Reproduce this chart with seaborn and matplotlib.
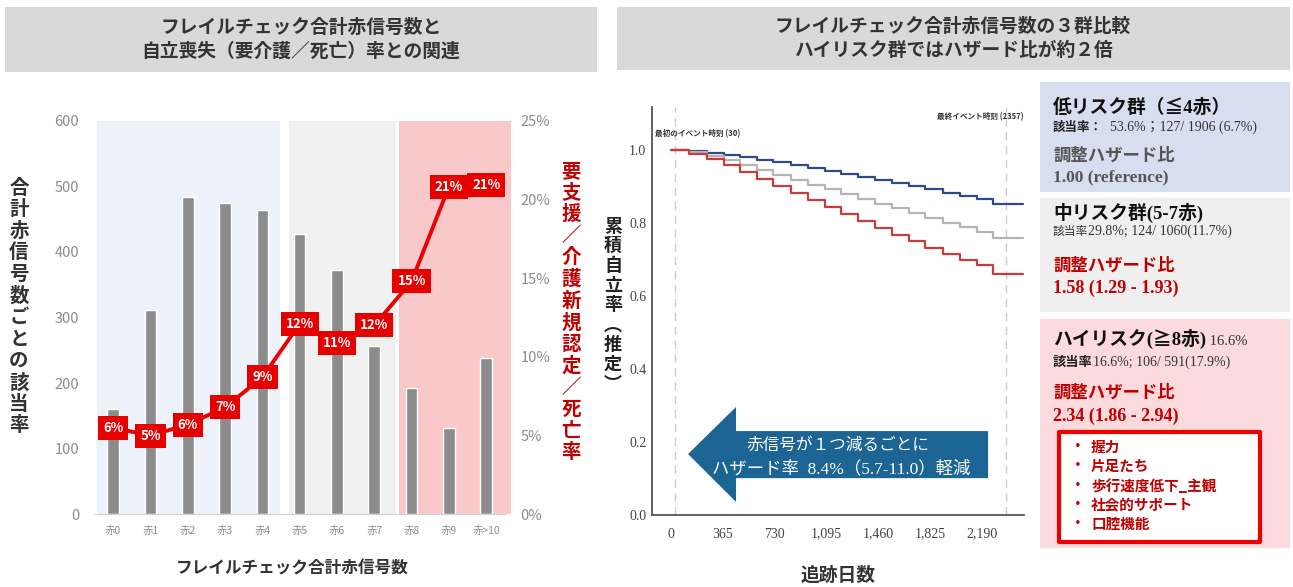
import numpy as np
import pandas as pd
import matplotlib
matplotlib.use("Agg")
import matplotlib.pyplot as plt
from matplotlib.patches import Rectangle, Polygon
from matplotlib.ticker import FuncFormatter
import seaborn as sns

# === Data ===
red_labels = ["赤0", "赤1", "赤2", "赤3", "赤4", "赤5", "赤6", "赤7", "赤8", "赤9", "赤>10"]
counts = [161, 312, 483, 475, 464, 427, 372, 256, 193, 132, 239]
event_rate = [5.5, 5.0, 5.7, 6.8, 8.7, 12.1, 10.9, 12.0, 14.8, 20.8, 20.9]

# risk groups as index ranges of red_labels
band_start = [0, 5, 8]
band_end = [4, 7, 10]
band_colors = ["#edf2fa", "#f0f0f0", "#f9c8c8"]
band_pad_left = [0.44, 0.28, 0.34]
band_pad_right = [0.47, 0.59, 0.67]

# Kaplan-Meier steps (days, survival) per group
km_days = [0, 130, 250, 370, 485, 605, 720, 845, 965, 1085, 1200,
           1320, 1440, 1555, 1675, 1790, 1915, 2035, 2155, 2270]
km_end = 2480
surv_low = [1.000, 0.997, 0.992, 0.986, 0.980, 0.973, 0.966, 0.959, 0.951, 0.943,
            0.935, 0.927, 0.919, 0.910, 0.901, 0.892, 0.883, 0.874, 0.865, 0.853]
surv_mid = [1.000, 0.996, 0.985, 0.972, 0.958, 0.944, 0.931, 0.918, 0.905, 0.892,
            0.879, 0.866, 0.853, 0.840, 0.827, 0.814, 0.801, 0.788, 0.775, 0.760]
surv_high = [1.000, 0.990, 0.975, 0.958, 0.940, 0.920, 0.901, 0.882, 0.862, 0.843,
             0.824, 0.805, 0.786, 0.768, 0.750, 0.733, 0.716, 0.700, 0.684, 0.660]
km_colors = {"low": "#2f4a8a", "mid": "#b4b4b4", "high": "#c83c3c"}
day_ticks = [0, 365, 730, 1095, 1460, 1825, 2190]
first_event = 30
last_event = 2357

high_risk_items = ["握力", "片足たち", "歩行速度低下_主観", "社会的サポート", "口腔機能"]

# === Style ===
sns.set_style("white")
plt.rcParams["font.family"] = ["Noto Sans CJK JP", "DejaVu Sans"]
SERIF = ["Liberation Serif", "Noto Sans CJK JP"]
DARKRED = "#c00000"

W, H = 1293, 587
fig = plt.figure(figsize=(W / 100, H / 100), dpi=100)


def fx(px):
    return px / W


def fy(py):
    return 1 - py / H


def rect(x0, y0, x1, y1, **kw):
    r = Rectangle((fx(x0), fy(y1)), (x1 - x0) / W, (y1 - y0) / H,
                  transform=fig.transFigure, **kw)
    fig.add_artist(r)


def chain(x, y, parts):
    # draw text pieces one after another on the same baseline
    renderer = fig.canvas.get_renderer()
    for text, kw in parts:
        t = fig.text(fx(x), fy(y), text, va="baseline", ha="left", **kw)
        x = t.get_window_extent(renderer).x1


# === Title boxes ===
rect(5, 7, 597, 72, color="#d9d9d9", lw=0)
fig.text(fx(301), fy(39), "フレイルチェック合計赤信号数と\n自立喪失（要介護／死亡）率との関連",
         ha="center", va="center", fontsize=13.5, fontweight="bold",
         color="#333333", linespacing=1.35)
rect(617, 7, 1290, 70, color="#d9d9d9", lw=0)
fig.text(fx(953), fy(38), "フレイルチェック合計赤信号数の３群比較\nハイリスク群ではハザード比が約２倍",
         ha="center", va="center", fontsize=13.5, fontweight="bold",
         color="#333333", linespacing=1.35)

# === Left: bars + rate line ===
ax = fig.add_axes([fx(94.5), fy(514.3), (512.3 - 94.5) / W, (514.3 - 120.7) / H])
for s, e, c, pl, pr in zip(band_start, band_end, band_colors, band_pad_left, band_pad_right):
    ax.axvspan(s - pl, e + pr, color=c, lw=0, zorder=0)
sns.barplot(x=red_labels, y=counts, color="#8c8c8c", saturation=1, width=0.31,
            ax=ax, zorder=2)
ax.set_xlim(-0.5, 10.7)
ax.set_ylim(0, 600)
ax.set_yticks(range(0, 601, 100))
ax.tick_params(axis="y", length=0, labelsize=10.5, labelcolor="#8c8c8c", pad=11)
ax.tick_params(axis="x", length=0, labelsize=7.5, labelcolor="#8c8c8c", pad=8)
ax.set_xlabel("")
ax.set_ylabel("")
for sp in ["top", "right", "left"]:
    ax.spines[sp].set_visible(False)
ax.spines["bottom"].set_color("#d0d0d0")
ax.spines["bottom"].set_bounds(-0.5, 10.5)

ax2 = ax.twinx()
sns.lineplot(x=np.arange(len(red_labels)), y=event_rate, color="#ee0000", lw=2.8,
             ax=ax2, zorder=3)
ax2.set_xlim(-0.5, 10.7)
ax2.set_ylim(0, 25)
ax2.set_yticks(range(0, 26, 5))
ax2.yaxis.set_major_formatter(FuncFormatter(lambda v, p: f"{v:.0f}%"))
ax2.tick_params(axis="y", length=0, labelsize=10.5, labelcolor="#8c8c8c", pad=6)
ax2.set_ylabel("")
for sp in ax2.spines.values():
    sp.set_visible(False)
for i, r in enumerate(event_rate):
    ax2.text(i, r, f"{r:.0f}%", ha="center", va="center", color="white",
             fontsize=9.5, fontweight="bold", zorder=5,
             bbox=dict(boxstyle="square,pad=0.38", fc="#e60000", ec="none"))

fig.text(fx(19), fy(307), "\n".join("合計赤信号数ごとの該当率"), ha="center", va="center",
         fontsize=14, fontweight="bold", color="#333333", linespacing=1.17)
fig.text(fx(571), fy(312), "\n".join("要支援／介護新規認定／死亡率"), ha="center", va="center",
         fontsize=14, fontweight="bold", color=DARKRED, linespacing=1.17)
fig.text(fx(292), fy(568), "フレイルチェック合計赤信号数", ha="center", va="center",
         fontsize=12, fontweight="bold", color="#333333")

# === Right: Kaplan-Meier curves ===
km_df = pd.concat([
    pd.DataFrame({"day": km_days + [km_end], "surv": s + [s[-1]], "group": g})
    for g, s in [("low", surv_low), ("mid", surv_mid), ("high", surv_high)]
], ignore_index=True)

axk = fig.add_axes([fx(652), fy(515), (1024 - 652) / W, (515 - 107) / H])
axk.axvline(first_event, color="#cccccc", ls=(0, (6, 4)), lw=1, zorder=1)
axk.axvline(last_event, color="#cccccc", ls=(0, (6, 4)), lw=1, zorder=1)
sns.lineplot(data=km_df, x="day", y="surv", hue="group", palette=km_colors,
             drawstyle="steps-post", estimator=None, legend=False, lw=1.6, ax=axk)
axk.set_xlim(-134, 2487)
axk.set_ylim(0, 1.118)
axk.set_xticks(day_ticks)
axk.set_yticks([0, 0.2, 0.4, 0.6, 0.8, 1.0])
axk.xaxis.set_major_formatter(FuncFormatter(lambda v, p: f"{v:,.0f}"))
axk.yaxis.set_major_formatter(FuncFormatter(lambda v, p: f"{v:.1f}"))
axk.tick_params(length=0, labelsize=10, labelcolor="#444444")
axk.tick_params(axis="x", pad=9)
axk.tick_params(axis="y", pad=4)
for lab in axk.get_xticklabels() + axk.get_yticklabels():
    lab.set_family(SERIF)
axk.set_xlabel("")
axk.set_ylabel("")
for sp in ["top", "right"]:
    axk.spines[sp].set_visible(False)
for sp in ["left", "bottom"]:
    axk.spines[sp].set_color("#555555")
    axk.spines[sp].set_linewidth(1.3)

axk.text(-113, 1.044, f"最初のイベント時刻 ({first_event})", fontsize=5.5,
         color="#333333", fontweight="bold", va="center", ha="left")
axk.text(2480, 1.09, f"最終イベント時刻 ({last_event})", fontsize=5.5,
         color="#333333", fontweight="bold", va="center", ha="right")

arrow = Polygon([(120, 0.167), (458, 0.296), (458, 0.230), (2234, 0.230),
                 (2234, 0.101), (458, 0.101), (458, 0.036)],
                closed=True, fc="#1b6494", ec="none", zorder=4)
axk.add_patch(arrow)
axk.text(1177, 0.192, "赤信号が１つ減るごとに", ha="center", va="center",
         fontsize=12, color="white", zorder=5)
axk.text(1200, 0.127, "ハザード率  8.4%（5.7-11.0）軽減", ha="center", va="center",
         fontsize=12.5, color="white", family=SERIF, zorder=5)

fig.text(fx(613), fy(305), "\n".join("累積自立率︵推定︶"), ha="center", va="center",
         fontsize=13, fontweight="bold", color="#222222", linespacing=1.05)
fig.text(fx(838), fy(575), "追跡日数", ha="center", va="center",
         fontsize=13.5, fontweight="bold", color="#333333")

# === Right: group boxes ===
rect(1040, 82, 1290, 192, color="#d7deef", lw=0)
rect(1040, 198, 1290, 312, color="#efefef", lw=0)
rect(1040, 319, 1290, 548, color="#fadadc", lw=0)

chain(1053, 113, [("低リスク群（≦4赤）", dict(fontsize=13.5, fontweight="bold", color="#111111", family=SERIF))])
chain(1053, 131, [("該当率：", dict(fontsize=9, fontweight="bold", color="#222222")),
                  ("  53.6%；127/ 1906 (6.7%)", dict(fontsize=10, color="#333333", family=SERIF))])
chain(1053, 161, [("調整ハザード比", dict(fontsize=12.5, fontweight="bold", color="#555555"))])
chain(1053, 181, [("1.00 (reference)", dict(fontsize=12.5, fontweight="bold", color="#555555", family=SERIF))])

chain(1053, 219, [("中リスク群(5-7赤)", dict(fontsize=13.5, fontweight="bold", color="#111111", family=SERIF))])
chain(1053, 235, [("該当率", dict(fontsize=8.5, color="#333333")),
                  ("29.8%; 124/ 1060(11.7%)", dict(fontsize=10, color="#333333", family=SERIF))])
chain(1053, 271, [("調整ハザード比", dict(fontsize=12.5, fontweight="bold", color=DARKRED))])
chain(1053, 293, [("1.58 (1.29 - 1.93)", dict(fontsize=13, fontweight="bold", color=DARKRED, family=SERIF))])

chain(1053, 345, [("ハイリスク(≧8赤)", dict(fontsize=13.5, fontweight="bold", color="#111111", family=SERIF)),
                  (" 16.6%", dict(fontsize=10.5, color="#333333", family=SERIF))])
chain(1053, 366, [("該当率", dict(fontsize=9.5, fontweight="bold", color="#222222")),
                  ("16.6%; 106/ 591(17.9%)", dict(fontsize=10, color="#333333", family=SERIF))])
chain(1053, 398, [("調整ハザード比", dict(fontsize=12.5, fontweight="bold", color=DARKRED))])
chain(1053, 421, [("2.34 (1.86 - 2.94)", dict(fontsize=13, fontweight="bold", color=DARKRED, family=SERIF))])

rect(1059, 432, 1260, 542, fc="white", ec="#ee0000", lw=3, joinstyle="round")
for k, item in enumerate(high_risk_items):
    yy = 447 + 19.3 * k
    fig.text(fx(1078), fy(yy), "・", ha="center", va="center", fontsize=10,
             fontweight="bold", color=DARKRED)
    fig.text(fx(1091), fy(yy), item, ha="left", va="center", fontsize=10.5,
             fontweight="bold", color=DARKRED)

fig.savefig("out.png", dpi=100)
plt.close(fig)
